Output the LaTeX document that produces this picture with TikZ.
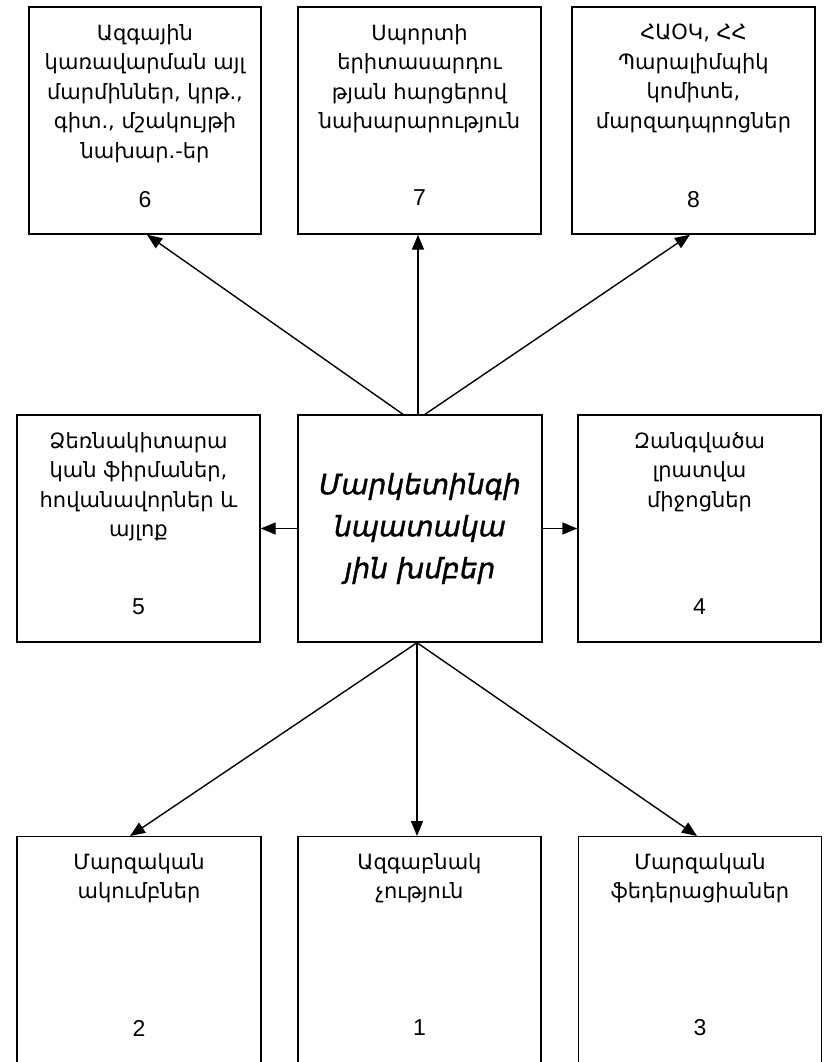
\documentclass[tikz,border=0pt]{standalone}
\usepackage{fontspec}
\setmainfont{Liberation Sans}
\newfontfamily\armfont{DejaVu Sans}
\newfontfamily\hubfont{DejaVu Sans}[ItalicFeatures={FakeBold=1.3}]
\usetikzlibrary{arrows.meta,calc}

\begin{document}
\begin{tikzpicture}[x=1pt,y=-1pt,
  box/.style={draw, line width=1.4pt, minimum width=243pt, minimum height=227pt, inner sep=0pt},
  tallbox/.style={box, minimum height=250pt},
  txt/.style={font=\armfont\fontsize{21}{29.5}\selectfont, align=center, anchor=north, inner sep=0pt},
  hub/.style={font=\hubfont\itshape\fontsize{28}{42}\selectfont, align=center, inner sep=0pt},
  num/.style={font=\fontsize{23}{27}\selectfont, inner sep=0pt},
  link/.style={line width=1.4pt, -{Triangle[length=15pt,width=12pt]}}
]
\useasboundingbox (0,0) rectangle (825,1062);
\clip (0,0) rectangle (825,1062);

% top row
\node[box, minimum width=232pt] (b6) at (145,120.5) {};
\node[box] (b7) at (419.5,120.5) {};
\node[box] (b8) at (693.5,120.5) {};
% middle row
\node[box] (b5) at (138.5,528.5) {};
\node[box, minimum width=244pt] (c) at (420,528.5) {};
\node[box] (b4) at (699.5,528.5) {};
% bottom row (runs off the lower edge)
\node[tallbox, anchor=north, minimum width=244pt] (b2) at (139,836) {};
\node[tallbox, anchor=north] (b1) at (419.5,836) {};
\node[tallbox, anchor=north] (b3) at (700,836) {};

% box captions
\node[txt] (t6) at (145,24) {Ազգային\\կառավարման այլ\\մարմիններ, կրթ.,\\գիտ., մշակույթի\\նախար.-եր};
\node[txt] (t7) at (419.5,24) {Սպորտի\\երիտասարդու\\թյան հարցերով\\նախարարություն};
\node[txt] (t8) at (693.5,24) {ՀԱՕԿ, ՀՀ\\Պարալիմպիկ\\կոմիտե,\\մարզադպրոցներ};
\node[txt] (t5) at (138.5,432) {Ձեռնակիտարա\\կան ֆիրմաներ,\\հովանավորներ և\\այլոք};
\node[txt] (t4) at (699.5,432) {Զանգվածա\\լրատվա\\միջոցներ};
\node[txt] (t2) at (139,853) {Մարզական\\ակումբներ};
\node[txt] (t1) at (419.5,853) {Ազգաբնակ\\չություն};
\node[txt] (t3) at (700,853) {Մարզական\\ֆեդերացիաներ};
\node[hub] (tc) at (c) {Մարկետինգի\\նպատակա\\յին խմբեր};

% box numbers
\node[num] (n6) at (145,200) {6};
\node[num] (n7) at (419.5,198) {7};
\node[num] (n8) at (693.5,200) {8};
\node[num] (n5) at (138.5,607) {5};
\node[num] (n4) at (699.5,607) {4};
\node[num] (n2) at (139,1028) {2};
\node[num] (n1) at (419.5,1028) {1};
\node[num] (n3) at (700,1028) {3};

% connectors from the central group
\draw[link] ($(c.north)+(-17,0)$) -- ($(b6.south)+(2,0)$);
\draw[link] ($(c.north)+(-2,0)$) -- ($(b7.south)+(-1.5,0)$);
\draw[link] ($(c.north)+(5,0)$) -- ($(b8.south)+(-3.5,0)$);
\draw[link] (c.west) -- (b5.east);
\draw[link] (c.east) -- (b4.west);
\draw[link] ($(c.south)+(-3,0)$) -- ($(b2.north)+(-9,0)$);
\draw[link] ($(c.south)+(-3,0)$) -- ($(b1.north)+(-2.5,0)$);
\draw[link] ($(c.south)+(-3,0)$) -- ($(b3.north)+(-3,0)$);
\end{tikzpicture}
\end{document}
